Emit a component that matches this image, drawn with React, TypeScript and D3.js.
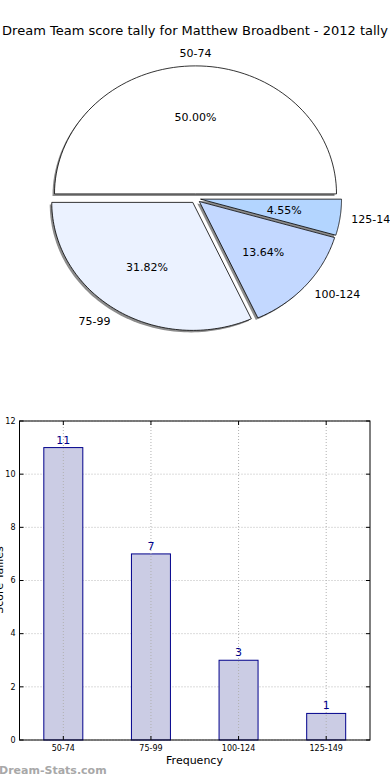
import React from "react";
import * as d3 from "d3";

const title = "Dream Team score tally for Matthew Broadbent - 2012 tally";
const categories = ["50-74", "75-99", "100-124", "125-149"];
const counts = [11, 7, 3, 1];
const pieColors = ["#ffffff", "#ebf2ff", "#c3d8ff", "#b3d5ff"];
const yTicks = [0, 2, 4, 6, 8, 10, 12];
const yLabel = "Score Tallies";
const xLabel = "Frequency";
const watermark = "Dream-Stats.com";

const W = 390;
const H = 780;
const FONT = "DejaVu Sans, sans-serif";

export default function App() {
  // ---- Pie (elliptical, matplotlib style) ----
  const cx = 195.5;
  const cy = 198.5;
  const rx = 141;
  const ry = 128;
  const explode = 0.036;
  const total = d3.sum(counts);
  const pieGen = d3
    .pie<number>()
    .sort(null)
    .startAngle(0)
    .endAngle(2 * Math.PI)
    .value((d) => d);
  const arcs = pieGen(counts);

  // angles: counter-clockwise from +x axis (math convention)
  const slicePath = (a0: number, a1: number, ox: number, oy: number) => {
    const n = 80;
    const pts: [number, number][] = [[ox, oy]];
    for (let i = 0; i <= n; i++) {
      const a = a0 + ((a1 - a0) * i) / n;
      pts.push([ox + rx * Math.cos(a), oy - ry * Math.sin(a)]);
    }
    return d3.line()(pts)! + "Z";
  };

  const slices = arcs.map((a, i) => {
    const a0 = a.startAngle;
    const a1 = a.endAngle;
    const mid = (a0 + a1) / 2;
    const ox = cx + explode * rx * Math.cos(mid);
    const oy = cy - explode * ry * Math.sin(mid);
    const lx = ox + 1.08 * rx * Math.cos(mid);
    const ly = oy - 1.1 * ry * Math.sin(mid);
    const px = ox + 0.6 * rx * Math.cos(mid);
    const py = oy - 0.6 * ry * Math.sin(mid);
    const pct = ((counts[i] / total) * 100).toFixed(2) + "%";
    return { i, a0, a1, mid, ox, oy, lx, ly, px, py, pct };
  });

  // ---- Bar chart ----
  const left = 19.5;
  const right = 370;
  const top = 421;
  const bottom = 740;
  const x = d3
    .scaleBand<string>()
    .domain(categories)
    .range([left, right])
    .paddingInner(0.555)
    .paddingOuter(0.2775);
  const y = d3.scaleLinear().domain([0, 12]).range([bottom, top]);

  return (
    <svg
      width={W}
      height={H}
      style={{ position: "absolute", left: 0, top: 0, background: "#fff" }}
      fontFamily={FONT}
    >
      <text x={195} y={35} textAnchor="middle" fontSize={13} fill="#000">
        {title}
      </text>

      {/* shadows */}
      {slices.map((s) => (
        <path
          key={"sh" + s.i}
          d={slicePath(s.a0, s.a1, s.ox - 2, s.oy + 2)}
          fill="#8c8c8c"
          stroke="none"
        />
      ))}
      {slices.map((s) => (
        <path
          key={"sl" + s.i}
          d={slicePath(s.a0, s.a1, s.ox, s.oy)}
          fill={pieColors[s.i]}
          stroke="#000"
          strokeWidth={0.8}
          strokeLinejoin="round"
        />
      ))}
      {slices.map((s) => (
        <text
          key={"lb" + s.i}
          x={s.lx}
          y={s.ly}
          dy="0.35em"
          textAnchor={Math.cos(s.mid) > 0.01 ? "start" : Math.cos(s.mid) < -0.01 ? "end" : "middle"}
          fontSize={11}
          fill="#000"
        >
          {categories[s.i]}
        </text>
      ))}
      {slices.map((s) => (
        <text
          key={"pc" + s.i}
          x={s.px}
          y={s.py}
          dy="0.35em"
          textAnchor="middle"
          fontSize={11}
          fill="#000"
        >
          {s.pct}
        </text>
      ))}

      {/* bar chart horizontal grid */}
      {yTicks.map((t) => (
        <line
          key={"hg" + t}
          x1={left}
          x2={right}
          y1={y(t)}
          y2={y(t)}
          stroke="#b8b8b8"
          strokeWidth={1}
          strokeDasharray="1,2"
        />
      ))}
      {categories.map((c, i) => (
        <rect
          key={"bar" + c}
          x={x(c)!}
          y={y(counts[i])}
          width={x.bandwidth()}
          height={y(0) - y(counts[i])}
          fill="#cbcce4"
          stroke="#00008b"
          strokeWidth={1}
        />
      ))}
      {categories.map((c) => {
        const cxp = x(c)! + x.bandwidth() / 2;
        return (
          <line
            key={"vg" + c}
            x1={cxp}
            x2={cxp}
            y1={top}
            y2={bottom}
            stroke="#b0b0b0"
            strokeWidth={1}
            strokeDasharray="1,2"
          />
        );
      })}
      {/* frame */}
      <rect x={left} y={top} width={right - left} height={bottom - top} fill="none" stroke="#000" strokeWidth={1} />
      {/* ticks */}
      {yTicks.map((t) => (
        <g key={"yt" + t}>
          <line x1={left} x2={left + 4} y1={y(t)} y2={y(t)} stroke="#000" />
          <line x1={right} x2={right - 4} y1={y(t)} y2={y(t)} stroke="#000" />
          <text x={left - 4} y={y(t)} dy="0.35em" textAnchor="end" fontSize={8} fill="#000">
            {t}
          </text>
        </g>
      ))}
      {categories.map((c) => {
        const cxp = x(c)! + x.bandwidth() / 2;
        return (
          <g key={"xt" + c}>
            <line x1={cxp} x2={cxp} y1={bottom} y2={bottom - 4} stroke="#000" />
            <line x1={cxp} x2={cxp} y1={top} y2={top + 4} stroke="#000" />
            <text x={cxp} y={bottom + 11} textAnchor="middle" fontSize={8} fill="#000">
              {c}
            </text>
          </g>
        );
      })}
      {categories.map((c, i) => (
        <text
          key={"vl" + c}
          x={x(c)! + x.bandwidth() / 2}
          y={y(counts[i]) - 4}
          textAnchor="middle"
          fontSize={11}
          fill="#00008b"
        >
          {counts[i]}
        </text>
      ))}
      <text x={194.5} y={764} textAnchor="middle" fontSize={11} fill="#000">
        {xLabel}
      </text>
      <text
        transform={`translate(3, 580) rotate(-90)`}
        textAnchor="middle"
        fontSize={11}
        fill="#000"
      >
        {yLabel}
      </text>
      <text x={-1} y={774} fontSize={11} fontWeight="bold" fill="#a8a8a8">
        {watermark}
      </text>
    </svg>
  );
}
